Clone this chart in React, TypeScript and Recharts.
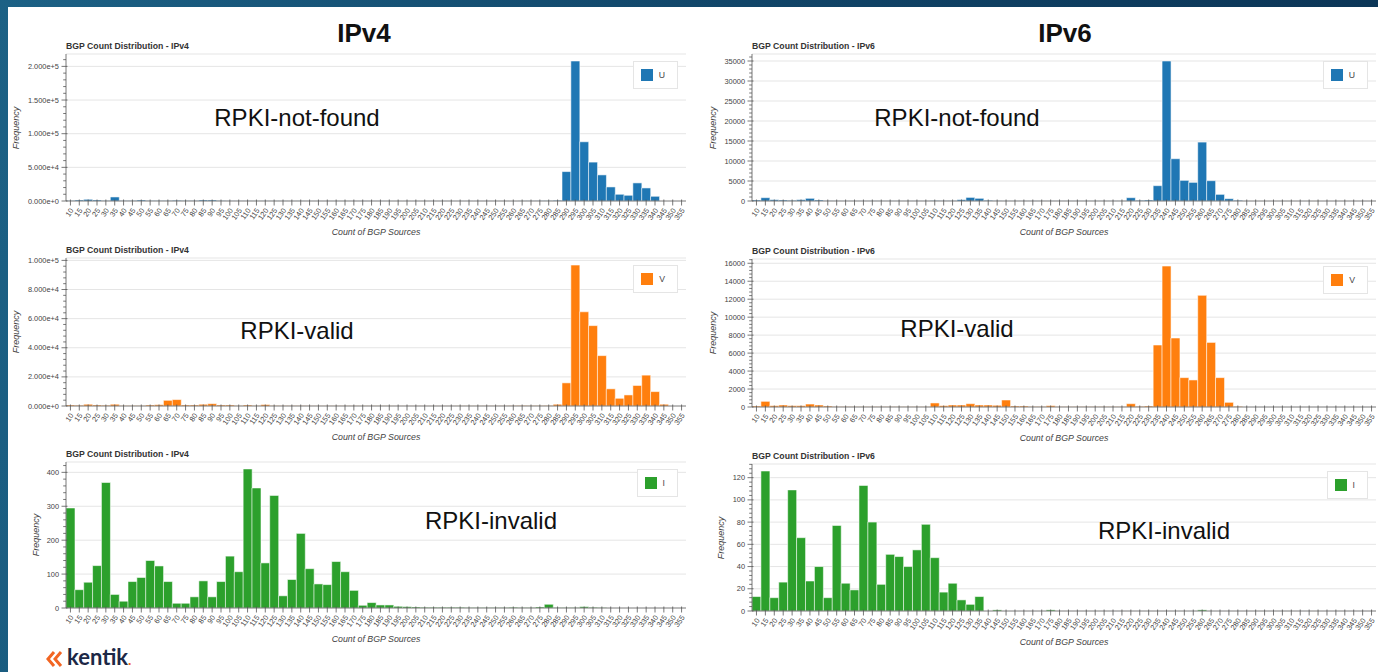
import React from "react";
import { Bar, BarChart, CartesianGrid, Legend, XAxis, YAxis } from "recharts";

// bins of "count of BGP sources"
const BINS = [
  "10", "15", "20", "25", "30", "35", "40", "45", "50", "55",
  "60", "65", "70", "75", "80", "85", "90", "95", "100", "105",
  "110", "115", "120", "125", "130", "135", "140", "145", "150", "155",
  "160", "165", "170", "175", "180", "185", "190", "195", "200", "205",
  "210", "215", "220", "225", "230", "235", "240", "245", "250", "255",
  "260", "265", "270", "275", "280", "285", "290", "295", "300", "305",
  "310", "315", "320", "325", "330", "335", "340", "345", "350", "355",
];

const IPV4_NOT_FOUND = [
  500, 1500, 2500, 1500, 500, 6000, 500, 500, 1500, 500,
  500, 500, 1000, 500, 500, 1500, 1500, 500, 200, 200,
  200, 150, 200, 150, 150, 100, 150, 100, 100, 100,
  100, 100, 80, 80, 80, 80, 60, 60, 60, 60,
  60, 60, 60, 60, 60, 80, 80, 80, 100, 100,
  100, 150, 200, 300, 400, 1000, 43700, 208000, 88000, 57800,
  38800, 20900, 10000, 8500, 26900, 19400, 7000, 0, 0, 0,
];

const IPV4_VALID = [
  700, 500, 1200, 700, 500, 1200, 200, 200, 200, 700,
  900, 3900, 4400, 700, 700, 1200, 1600, 700, 700, 200,
  700, 200, 1000, 200, 150, 150, 150, 100, 100, 100,
  100, 100, 100, 80, 80, 80, 80, 60, 60, 60,
  60, 60, 60, 60, 80, 80, 80, 100, 100, 100,
  150, 300, 200, 200, 300, 1200, 15900, 96800, 64700, 55200,
  34600, 11800, 5300, 7600, 14100, 21200, 9900, 1200, 0, 0,
];

const IPV4_INVALID = [
  295, 54, 76, 125, 370, 40, 20, 78, 90, 140,
  124, 78, 14, 14, 33, 80, 33, 78, 153, 107,
  410, 354, 133, 332, 36, 84, 220, 116, 71, 69,
  137, 107, 52, 8, 16, 9, 9, 5, 4, 3,
  2, 2, 2, 2, 2, 1, 1, 1, 1, 1,
  2, 1, 1, 3, 11, 1, 1, 1, 4, 2,
  1, 0, 0, 0, 0, 0, 0, 0, 0, 0,
];

const IPV6_NOT_FOUND = [
  250, 830, 330, 250, 170, 330, 670, 250, 50, 30,
  20, 20, 20, 20, 20, 20, 20, 20, 20, 20,
  100, 50, 80, 330, 900, 670, 170, 50, 20, 20,
  20, 20, 20, 20, 20, 20, 20, 20, 20, 20,
  20, 20, 830, 170, 250, 3830, 35000, 10570, 5160, 4660,
  14730, 5080, 1660, 580, 170, 0, 0, 0, 0, 0,
  0, 0, 0, 0, 0, 0, 0, 0, 0, 0,
];

const IPV6_VALID = [
  110, 630, 150, 220, 150, 150, 330, 220, 110, 30,
  30, 20, 20, 20, 20, 20, 20, 20, 20, 20,
  450, 150, 220, 220, 370, 220, 220, 190, 780, 110,
  110, 40, 40, 150, 30, 30, 30, 30, 30, 30,
  30, 30, 370, 70, 110, 6900, 15690, 7680, 3270, 3010,
  12430, 7190, 3270, 520, 70, 0, 0, 0, 0, 0,
  0, 0, 0, 0, 0, 0, 0, 0, 0, 0,
];

const IPV6_INVALID = [
  13, 126, 12, 26, 109, 66, 27, 40, 12, 77,
  25, 19, 113, 80, 24, 51, 49, 40, 55, 78,
  48, 17, 25, 10, 6, 13, 0, 1, 0, 0,
  0, 0, 0, 1, 0, 0, 0, 0, 0, 0,
  0, 0, 0, 0, 0, 0, 0, 0, 0, 0,
  1, 0, 0, 0, 0, 0, 0, 0, 0, 0,
  0, 0, 0, 0, 0, 0, 0, 0, 0, 0,
];

const IPV4_NOT_FOUND_TICKS = [0, 50000, 100000, 150000, 200000];
const IPV4_VALID_TICKS = [0, 20000, 40000, 60000, 80000, 100000];
const IPV4_INVALID_TICKS = [0, 100, 200, 300, 400];
const IPV6_NOT_FOUND_TICKS = [0, 5000, 10000, 15000, 20000, 25000, 30000, 35000];
const IPV6_VALID_TICKS = [0, 2000, 4000, 6000, 8000, 10000, 12000, 14000, 16000];
const IPV6_INVALID_TICKS = [0, 20, 40, 60, 80, 100, 120];

const FONT = "'Liberation Sans', Helvetica, Arial, sans-serif";
const AXIS = "#555";
const TEXT = "#444";
const GRID = "#e5e5e5";
const BLUE = "#1f77b4";
const ORANGE = "#ff7f0e";
const GREEN = "#2ca02c";
const MARGIN_TOP = 54;
const XAXIS_H = 44;

type HistProps = {
  values: number[];
  ticks: number[];
  color: string;
  letter: string;
  title: string;
  sci?: boolean;
  left: number;
  width: number;
  yAxisW: number;
  rightPad: number;
  plotTop: number;
  plotBottom: number;
  yLabelGap: number;
};

function Histogram(p: HistProps) {
  const data = BINS.map((bin, i) => ({ bin, value: p.values[i] }));
  const top = Math.max(...p.values) * 1.05;
  const step = (p.ticks[1] - p.ticks[0]) / 5;
  const allTicks: number[] = [];
  for (let i = 0; i * step <= top; i++) allTicks.push(i * step);
  const major = new Set(p.ticks);
  const plotH = p.plotBottom - p.plotTop;
  const plotW = p.width - p.yAxisW - p.rightPad;
  const height = plotH + MARGIN_TOP + XAXIS_H;

  const fmt = (v: number) => (p.sci ? v.toExponential(3) : String(v));

  const yTick = (t: any) => {
    const v = t.payload.value;
    const isMajor = major.has(v);
    return (
      <g>
        <line
          x1={t.x - (isMajor ? 4.5 : 2.8)}
          x2={t.x + (isMajor ? 1.5 : 0)}
          y1={t.y}
          y2={t.y}
          stroke={AXIS}
          strokeWidth={0.8}
        />
        {isMajor && (
          <text
            x={t.x - 7}
            y={t.y}
            textAnchor="end"
            dominantBaseline="central"
            fontSize={7.4}
            fill={TEXT}
            fontFamily={FONT}
          >
            {fmt(v)}
          </text>
        )}
      </g>
    );
  };

  const xTick = (t: any) => (
    <g>
      <line x1={t.x} x2={t.x} y1={t.y - 1.5} y2={t.y + 4.5} stroke={AXIS} strokeWidth={0.8} />
      <text
        x={t.x + 1.5}
        y={t.y + 8}
        transform={`rotate(-55 ${t.x + 1.5} ${t.y + 8})`}
        textAnchor="end"
        dominantBaseline="central"
        fontSize={7.4}
        fill={TEXT}
        fontFamily={FONT}
      >
        {t.payload.value}
      </text>
    </g>
  );

  return (
    <div
      style={{
        position: "absolute",
        left: p.left,
        top: p.plotTop - MARGIN_TOP,
        width: p.width,
        height,
      }}
    >
      <BarChart
        width={p.width}
        height={height}
        data={data}
        margin={{ top: MARGIN_TOP, right: p.rightPad, left: 0, bottom: 0 }}
        barCategoryGap={0}
        barGap={0}
      >
        <CartesianGrid
          vertical={false}
          horizontalValues={[...p.ticks.slice(1), top]}
          stroke={GRID}
        />
        <XAxis
          dataKey="bin"
          interval={0}
          height={XAXIS_H}
          tickSize={0}
          tickMargin={0}
          tickLine={false}
          tick={xTick}
          axisLine={{ stroke: AXIS, strokeWidth: 0.8 }}
        />
        <YAxis
          type="number"
          domain={[0, top]}
          allowDataOverflow
          ticks={allTicks}
          interval={0}
          width={p.yAxisW}
          tickSize={0}
          tickMargin={0}
          tickLine={false}
          tick={yTick}
          axisLine={{ stroke: AXIS, strokeWidth: 0.8 }}
        />
        <YAxis
          yAxisId="frame"
          orientation="right"
          type="number"
          domain={[0, 1]}
          width={0}
          tick={false}
          tickLine={false}
          axisLine={{ stroke: GRID }}
        />
        <Legend
          layout="vertical"
          align="center"
          verticalAlign="middle"
          wrapperStyle={{
            top: MARGIN_TOP + 7,
            right: p.rightPad + 8,
            left: "auto",
            bottom: "auto",
            width: "auto",
          }}
          content={() => (
            <div
              style={{
                border: `1px solid ${GRID}`,
                background: "#fff",
                padding: "7px 12px 7px 7px",
                display: "flex",
                alignItems: "center",
                gap: 6,
              }}
            >
              <div style={{ width: 12, height: 12, background: p.color }} />
              <span style={{ fontSize: 8.7, color: TEXT, fontFamily: FONT }}>{p.letter}</span>
            </div>
          )}
        />
        <Bar
          dataKey="value"
          name={p.letter}
          fill={p.color}
          stroke="#ffffff"
          strokeOpacity={0.55}
          strokeWidth={1}
          isAnimationActive={false}
        />
      </BarChart>
      <div
        style={{
          position: "absolute",
          left: p.yAxisW,
          top: MARGIN_TOP - 8,
          transform: "translateY(-50%)",
          fontSize: 8.7,
          fontWeight: 700,
          color: "#333",
          fontFamily: FONT,
          whiteSpace: "nowrap",
        }}
      >
        {p.title}
      </div>
      <div
        style={{
          position: "absolute",
          left: p.yAxisW - p.yLabelGap,
          top: MARGIN_TOP + plotH / 2,
          transform: "translate(-50%, -50%) rotate(-90deg)",
          fontSize: 9,
          fontStyle: "italic",
          color: TEXT,
          fontFamily: FONT,
          whiteSpace: "nowrap",
        }}
      >
        Frequency
      </div>
      <div
        style={{
          position: "absolute",
          left: p.yAxisW + plotW / 2,
          top: MARGIN_TOP + plotH + 31,
          transform: "translate(-50%, -50%)",
          fontSize: 8.8,
          fontStyle: "italic",
          color: TEXT,
          fontFamily: FONT,
          whiteSpace: "nowrap",
        }}
      >
        Count of BGP Sources
      </div>
    </div>
  );
}

const noteStyle = (x: number, y: number): React.CSSProperties => ({
  position: "absolute",
  left: x,
  top: y,
  transform: "translate(-50%, -50%)",
  fontSize: 24,
  color: "#111",
  fontFamily: FONT,
  whiteSpace: "nowrap",
});

const headStyle = (x: number): React.CSSProperties => ({
  position: "absolute",
  left: x,
  top: 33,
  transform: "translate(-50%, -50%)",
  fontSize: 26,
  fontWeight: 700,
  color: "#111",
  fontFamily: FONT,
});

export default function App() {
  const leftCol = { left: 0, width: 700, yAxisW: 66, rightPad: 14 };
  const rightCol = { left: 700, width: 678, yAxisW: 52, rightPad: 2 };
  return (
    <div
      style={{
        position: "absolute",
        left: 0,
        top: 0,
        width: 1378,
        height: 672,
        overflow: "hidden",
        background: "linear-gradient(100deg, #1c6185 0%, #114568 50%, #0b3354 100%)",
      }}
    >
      <div style={{ position: "absolute", left: 8, top: 7, right: 0, bottom: 0, background: "#fff" }} />

      <div style={headStyle(364)}>IPv4</div>
      <div style={headStyle(1065)}>IPv6</div>

      <Histogram {...leftCol} values={IPV4_NOT_FOUND} ticks={IPV4_NOT_FOUND_TICKS} sci color={BLUE} letter="U"
        title="BGP Count Distribution - IPv4" plotTop={54} plotBottom={201} yLabelGap={50} />
      <Histogram {...leftCol} values={IPV4_VALID} ticks={IPV4_VALID_TICKS} sci color={ORANGE} letter="V"
        title="BGP Count Distribution - IPv4" plotTop={258} plotBottom={406} yLabelGap={50} />
      <Histogram {...leftCol} values={IPV4_INVALID} ticks={IPV4_INVALID_TICKS} color={GREEN} letter="I"
        title="BGP Count Distribution - IPv4" plotTop={462} plotBottom={608} yLabelGap={30} />

      <Histogram {...rightCol} values={IPV6_NOT_FOUND} ticks={IPV6_NOT_FOUND_TICKS} color={BLUE} letter="U"
        title="BGP Count Distribution - IPv6" plotTop={54} plotBottom={201} yLabelGap={39} />
      <Histogram {...rightCol} values={IPV6_VALID} ticks={IPV6_VALID_TICKS} color={ORANGE} letter="V"
        title="BGP Count Distribution - IPv6" plotTop={259} plotBottom={407} yLabelGap={39} />
      <Histogram {...rightCol} values={IPV6_INVALID} ticks={IPV6_INVALID_TICKS} color={GREEN} letter="I"
        title="BGP Count Distribution - IPv6" plotTop={464} plotBottom={611} yLabelGap={31} />

      <div style={noteStyle(297, 118)}>RPKI-not-found</div>
      <div style={noteStyle(957, 118)}>RPKI-not-found</div>
      <div style={noteStyle(297, 331)}>RPKI-valid</div>
      <div style={noteStyle(957, 329)}>RPKI-valid</div>
      <div style={noteStyle(491, 521)}>RPKI-invalid</div>
      <div style={noteStyle(1164, 531)}>RPKI-invalid</div>

      <div style={{ position: "absolute", left: 46, top: 647, display: "flex", alignItems: "center", gap: 3 }}>
        <svg width={18} height={18}>
          <polyline points="8,2 2,9 8,16" fill="none" stroke="#f26522" strokeWidth={3} />
          <polyline points="15,2 9,9 15,16" fill="none" stroke="#f26522" strokeWidth={3} />
        </svg>
        <span style={{ fontFamily: "Lato, sans-serif", fontWeight: 700, fontSize: 22, color: "#1d2846", lineHeight: "20px" }}>
          kentik<span style={{ color: "#f26522", fontSize: 14 }}>.</span>
        </span>
      </div>
    </div>
  );
}
